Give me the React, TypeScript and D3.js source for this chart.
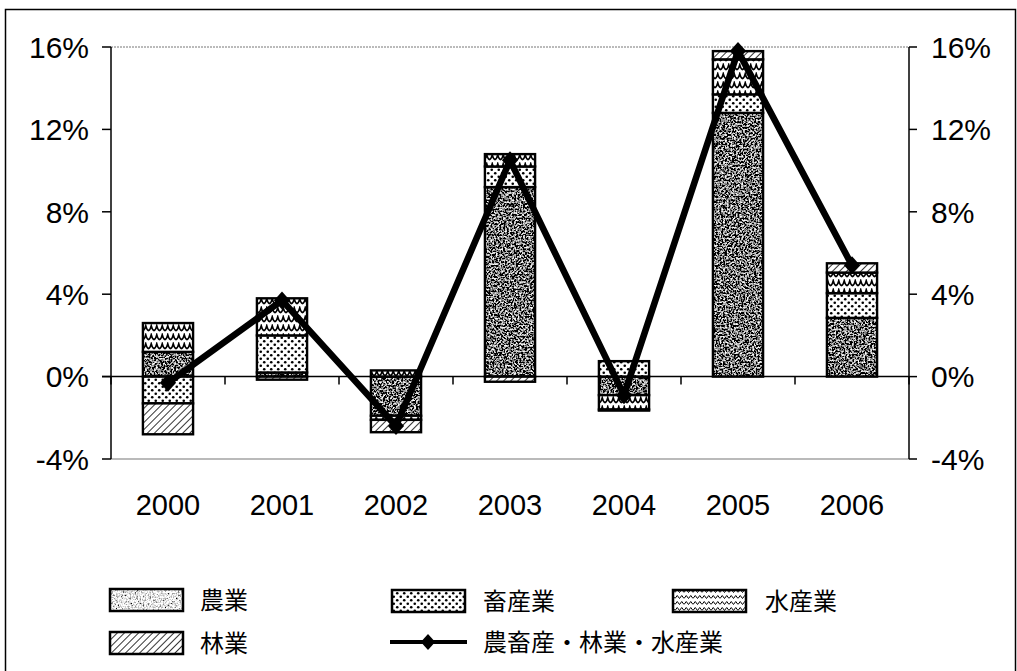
import React from 'react';
import * as d3 from 'd3';

// Year-on-year growth (%) by sector
const categories = ['2000', '2001', '2002', '2003', '2004', '2005', '2006'];
const agriculture = [1.2, 0.2, -1.9, 9.2, -0.9, 12.8, 2.85];
const livestock = [-1.3, 1.8, -0.2, 1.0, 0.75, 0.9, 1.2];
const fisheries = [1.4, 1.8, 0.3, 0.6, -0.7, 1.7, 1.0];
const forestry = [-1.5, -0.15, -0.6, -0.25, -0.05, 0.4, 0.45];
const total = [-0.3, 3.7, -2.4, 10.5, -0.9, 15.8, 5.4];
const yTicks = [-4, 0, 4, 8, 12, 16];
const seriesNames = ['農業', '畜産業', '水産業', '林業'];
const lineName = '農畜産・林業・水産業';

const W = 1017;
const H = 671;
const plot = { left: 111, right: 909, top: 47, bottom: 459 };
const font = '"Liberation Sans", Arial, sans-serif';
const cjk = '"Noto Sans CJK JP", "Noto Sans CJK SC", sans-serif';

const fills = ['url(#grainFill)', 'url(#dots)', 'url(#waves)', 'url(#hatch)'];

export default function App() {
  const x = d3.scaleBand<string>().domain(categories).range([plot.left, plot.right]).paddingInner(0).paddingOuter(0);
  const y = d3.scaleLinear().domain([-4, 16]).range([plot.bottom, plot.top]);
  const barW = x.bandwidth() * 0.44;

  const rows = categories.map((c, i) => ({
    cat: c,
    s0: agriculture[i],
    s1: livestock[i],
    s2: fisheries[i],
    s3: forestry[i],
  }));
  const stack = d3
    .stack<any>()
    .keys(['s0', 's1', 's2', 's3'])
    .offset(d3.stackOffsetDiverging);
  const layers = stack(rows);

  const cx = (c: string) => (x(c) as number) + x.bandwidth() / 2;
  const line = d3
    .line<number>()
    .x((_, i) => cx(categories[i]))
    .y((v) => y(v));

  const diamond = (px: number, py: number, r = 9) =>
    `M${px},${py - r}L${px + r * 0.9},${py}L${px},${py + r}L${px - r * 0.9},${py}Z`;

  const boundaries = d3.range(categories.length + 1).map((i) => plot.left + i * x.bandwidth());

  return (
    <svg
      width={W}
      height={H}
      style={{ position: 'absolute', left: 0, top: 0, background: '#fff' }}
    >
      <defs>
        <filter id="grainDark" x="0" y="0" width="1" height="1" filterUnits="objectBoundingBox">
          <feTurbulence type="fractalNoise" baseFrequency="0.55" numOctaves="2" seed="5" result="t" />
          <feColorMatrix in="t" type="matrix" values="1 0 0 0 0  1 0 0 0 0  1 0 0 0 0  0 0 0 0 1" result="g" />
          <feComponentTransfer in="g" result="c">
            <feFuncR type="linear" slope="3.2" intercept="-1.4" />
            <feFuncG type="linear" slope="3.2" intercept="-1.4" />
            <feFuncB type="linear" slope="3.2" intercept="-1.4" />
          </feComponentTransfer>
          <feComposite in="c" in2="SourceAlpha" operator="in" />
        </filter>
        <filter id="grainLight" x="0" y="0" width="1" height="1" filterUnits="objectBoundingBox">
          <feTurbulence type="fractalNoise" baseFrequency="0.6" numOctaves="2" seed="9" result="t" />
          <feColorMatrix in="t" type="matrix" values="1 0 0 0 0  1 0 0 0 0  1 0 0 0 0  0 0 0 0 1" result="g" />
          <feComponentTransfer in="g" result="c">
            <feFuncR type="linear" slope="2.6" intercept="-0.5" />
            <feFuncG type="linear" slope="2.6" intercept="-0.5" />
            <feFuncB type="linear" slope="2.6" intercept="-0.5" />
          </feComponentTransfer>
          <feComposite in="c" in2="SourceAlpha" operator="in" />
        </filter>
        <pattern id="dots" width="7" height="7" patternUnits="userSpaceOnUse">
          <rect width="7" height="7" fill="#fff" />
          <circle cx="1.75" cy="1.75" r="1.3" fill="#000" />
          <circle cx="5.25" cy="5.25" r="1.3" fill="#000" />
        </pattern>
        <pattern id="waves" width="11" height="9" patternUnits="userSpaceOnUse">
          <rect width="11" height="9" fill="#fff" />
          <path d="M0,6.5 Q1.4,6.5 2.75,2 Q4.1,6.5 5.5,6.5 Q6.9,6.5 8.25,2 Q9.6,6.5 11,6.5" fill="none" stroke="#000" strokeWidth="1.8" />
        </pattern>
        <pattern id="wavesSmall" width="9" height="6" patternUnits="userSpaceOnUse">
          <rect width="9" height="6" fill="#fff" />
          <path d="M0,4.5 L2.25,1.5 L4.5,4.5 L6.75,1.5 L9,4.5" fill="none" stroke="#000" strokeWidth="1" />
        </pattern>
        <pattern id="hatch" width="5" height="5" patternUnits="userSpaceOnUse" patternTransform="rotate(45)">
          <rect width="5" height="5" fill="#fff" />
          <line x1="0" y1="0" x2="0" y2="5" stroke="#000" strokeWidth="1.6" />
        </pattern>
      </defs>

      <rect x={0} y={0} width={W} height={H} fill="#fff" />
      {/* outer frame */}
      <rect x={5.5} y={9.5} width={1010} height={700} fill="none" stroke="#000" strokeWidth={1.5} />

      {/* plot area top and bottom edges */}
      <line x1={plot.left} x2={plot.right} y1={plot.top} y2={plot.top} stroke="#777" strokeWidth={1} strokeDasharray="2,1" />
      <line x1={plot.left} x2={plot.right} y1={plot.bottom} y2={plot.bottom} stroke="#777" strokeWidth={1.2} />

      {/* stacked bars */}
      {layers.map((layer, li) =>
        layer.map((d, i) => {
          const cat = categories[i];
          const y0 = y(Math.max(d[0], d[1]));
          const y1 = y(Math.min(d[0], d[1]));
          const h = Math.max(0, y1 - y0);
          if (h < 0.01) return null;
          const bx = cx(cat) - barW / 2;
          return (
            <g key={`${li}-${i}`}>
              {li === 0 ? (
                <rect x={bx} y={y0} width={barW} height={h} fill="#777" filter="url(#grainDark)" />
              ) : (
                <rect x={bx} y={y0} width={barW} height={h} fill={fills[li]} />
              )}
              <rect x={bx} y={y0} width={barW} height={h} fill="none" stroke="#000" strokeWidth={2.4} />
            </g>
          );
        })
      )}

      {/* zero line with category ticks */}
      <line x1={plot.left - 9} x2={plot.right} y1={y(0)} y2={y(0)} stroke="#000" strokeWidth={1.5} />
      {boundaries.map((bx, i) => (
        <line key={`ct${i}`} x1={bx} x2={bx} y1={y(0)} y2={y(0) + 8} stroke="#000" strokeWidth={1.5} />
      ))}

      {/* left axis */}
      <line x1={plot.left} x2={plot.left} y1={plot.top} y2={plot.bottom} stroke="#000" strokeWidth={1.5} />
      {yTicks.map((t) => (
        <g key={`l${t}`}>
          <line x1={plot.left - 9} x2={plot.left} y1={y(t)} y2={y(t)} stroke="#000" strokeWidth={1.5} />
          <text x={89} y={y(t)} dy="0.36em" textAnchor="end" fontFamily={font} fontSize={30} fill="#000">
            {`${t}%`}
          </text>
        </g>
      ))}

      {/* right axis */}
      <line x1={plot.right} x2={plot.right} y1={plot.top} y2={plot.bottom} stroke="#000" strokeWidth={1.5} />
      {yTicks.map((t) => (
        <g key={`r${t}`}>
          <line x1={plot.right} x2={plot.right + 8} y1={y(t)} y2={y(t)} stroke="#000" strokeWidth={1.5} />
          <text x={931} y={y(t)} dy="0.36em" textAnchor="start" fontFamily={font} fontSize={30} fill="#000">
            {`${t}%`}
          </text>
        </g>
      ))}

      {/* total line */}
      <path d={line(total) || ''} fill="none" stroke="#000" strokeWidth={6.5} strokeLinejoin="round" />
      {total.map((v, i) => (
        <path key={`m${i}`} d={diamond(cx(categories[i]), y(v))} fill="#000" />
      ))}

      {/* category labels */}
      {categories.map((c) => (
        <text key={c} x={cx(c)} y={505} dy="0.36em" textAnchor="middle" fontFamily={font} fontSize={29} fill="#000">
          {c}
        </text>
      ))}

      {/* legend */}
      {[
        { i: 0, sx: 110, sy: 589, tx: 200 },
        { i: 1, sx: 392, sy: 590, tx: 483 },
        { i: 2, sx: 673, sy: 590, tx: 765 },
        { i: 3, sx: 110, sy: 632, tx: 200 },
      ].map((l) => (
        <g key={`lg${l.i}`}>
          {l.i === 0 ? (
            <rect x={l.sx} y={l.sy} width={73} height={22} fill="#bbb" filter="url(#grainLight)" />
          ) : (
            <rect x={l.sx} y={l.sy} width={73} height={22} fill={l.i === 2 ? 'url(#wavesSmall)' : fills[l.i]} />
          )}
          <rect x={l.sx} y={l.sy} width={73} height={22} fill="none" stroke="#000" strokeWidth={2.5} />
          <text x={l.tx} y={l.sy + 11} dy="0.36em" fontFamily={cjk} fontSize={24} fill="#000">
            {seriesNames[l.i]}
          </text>
        </g>
      ))}
      <g>
        <line x1={390} x2={467} y1={642} y2={642} stroke="#000" strokeWidth={4} />
        <path d={diamond(428, 642, 8)} fill="#000" />
        <text x={483} y={642} dy="0.36em" fontFamily={cjk} fontSize={24} fill="#000">
          {lineName}
        </text>
      </g>
    </svg>
  );
}
